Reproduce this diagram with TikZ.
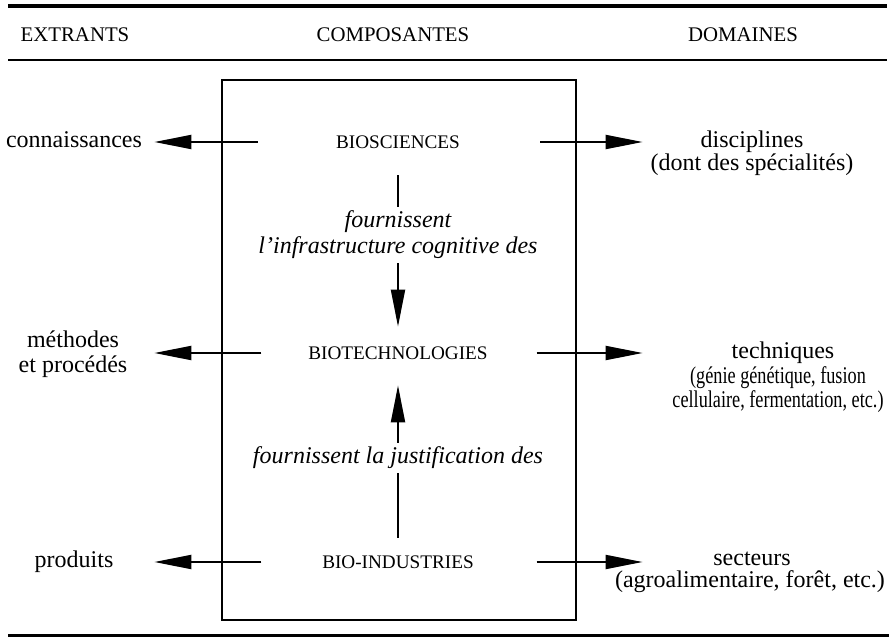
\documentclass[tikz,border=0pt]{standalone}
\usepackage{fontspec}
\setmainfont{Liberation Serif}
\newfontfamily\narrowserif[FakeStretch=0.76]{Liberation Serif}
\usetikzlibrary{arrows.meta}
\begin{document}
\begin{tikzpicture}[x=0.5pt,y=-0.5pt,
  body/.style={inner sep=0pt, font=\fontsize{12}{12.5}\selectfont},
  bline/.style={body, text height=8.2pt, text depth=2.8pt},
  caps/.style={inner sep=0pt, font=\fontsize{9.6}{11}\selectfont, text height=6.4pt, text depth=0pt},
  head/.style={inner sep=0pt, font=\fontsize{10.4}{12}\selectfont, text height=6.9pt, text depth=0pt},
  lbl/.style={inner sep=0pt, align=center, font=\fontsize{12}{13}\selectfont\itshape},
  arr/.style={line width=1pt, -{Triangle[length=18.5pt,width=7pt]}},
  plainline/.style={line width=1pt}
]
\useasboundingbox[fill=white] (0,0) rectangle (891,638);

% rules
\draw[line width=1.9pt] (8,6) -- (887,6);
\draw[line width=1pt] (8,60) -- (887,60);
\draw[line width=1.5pt] (8,635) -- (889,635);

% headers
\node[head] (hext) at (75,35) {EXTRANTS};
\node[head] (hcomp) at (393,35) {COMPOSANTES};
\node[head] (hdom) at (743,35) {DOMAINES};

% box
\node[draw, line width=1pt, inner sep=0pt, minimum width=177pt, minimum height=270pt] (box) at (399,350) {};

% components
\node[caps] (bios) at (398,142) {BIOSCIENCES};
\node[caps] (biot) at (398,353) {BIOTECHNOLOGIES};
\node[caps] (bioi) at (398,562) {BIO-INDUSTRIES};

% labels between components
\node[lbl, minimum height=28pt] (lab1) at (398,235) {fournissent\\l'infrastructure cognitive des};
\node[lbl, minimum height=15pt] (lab2) at (398,458) {fournissent la justification des};

% outputs
\node[bline] (conn) at (74,142) {connaissances};
\node[body, align=center, font=\fontsize{12}{12.5}\selectfont] (meth) at (73,354.5) {méthodes\\et procédés};
\node[bline] (prod) at (74,562) {produits};

% domains
\node[bline] (disc) at (752,142) {disciplines};
\node[bline] (discd) at (752,165) {(dont des spécialités)};
\node[bline] (tech) at (783,353) {techniques};
\node[body, align=center, font=\fontsize{12}{12}\selectfont\narrowserif] (techd) at (778,389.5) {(génie génétique, fusion\\cellulaire, fermentation, etc.)};
\node[bline] (sect) at (752,560) {secteurs};
\node[bline] (sectd) at (750,582) {(agroalimentaire, forêt, etc.)};

% vertical connectors
\draw[plainline, shorten <=13.3pt] (bios) -- (lab1);
\draw[arr, shorten >=9.8pt] (lab1) -- (biot);
\draw[arr, shorten >=12.8pt] (lab2) -- (biot);
\draw[plainline, shorten >=8.8pt] (lab2) -- (bioi);

% horizontal connectors
\draw[arr, shorten <=39pt, shorten >=6pt] (bios) -- (bios -| conn.east);
\draw[arr, shorten <=40pt, shorten >=28.8pt] (bios) -- (bios -| disc.west);
\draw[arr, shorten <=23.3pt, shorten >=13.3pt] (biot) -- (biot -| meth.east);
\draw[arr, shorten <=24.3pt, shorten >=44.3pt] (biot) -- (biot -| tech.west);
\draw[arr, shorten <=30.2pt, shorten >=20.3pt] (bioi) -- (bioi -| prod.east);
\draw[arr, shorten <=31.2pt, shorten >=35.2pt] (bioi) -- (bioi -| sect.west);
\end{tikzpicture}
\end{document}
